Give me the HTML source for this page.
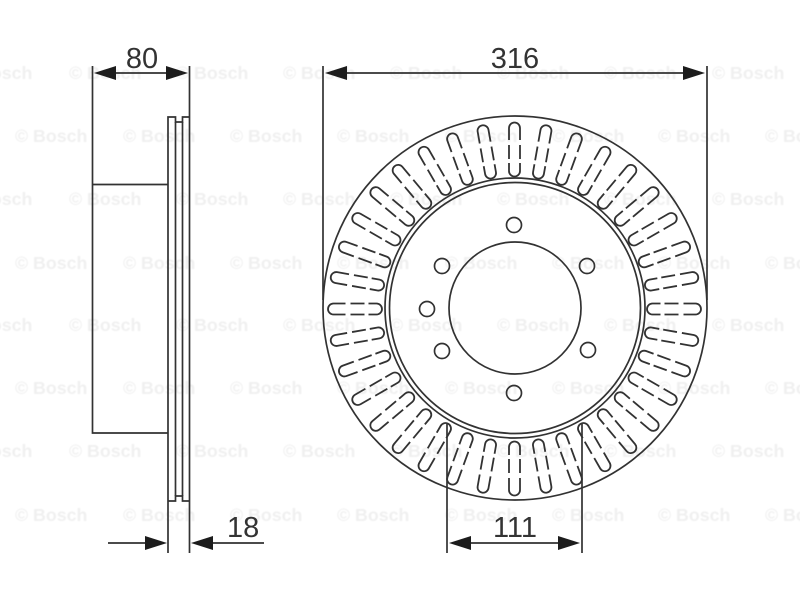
<!DOCTYPE html>
<html><head><meta charset="utf-8"><style>
html,body{margin:0;padding:0;background:#fff}
svg{display:block}
.w{font:bold 17.8px "Liberation Sans",sans-serif;fill:#f0f0f0}
.d{font:29px "Liberation Sans",sans-serif;fill:#333}
</style></head><body>
<svg width="800" height="600" viewBox="0 0 800 600" xmlns="http://www.w3.org/2000/svg">
<defs>
<filter id="b" x="-5%" y="-5%" width="110%" height="110%"><feGaussianBlur stdDeviation="0.35"/></filter>
<filter id="c" x="-5%" y="-5%" width="110%" height="110%"><feGaussianBlur stdDeviation="0.6"/></filter>
<g id="s" fill="none" stroke="#333" stroke-width="1.8">
<path d="M-5.500,-169V-181A5.500,5.500 0 0 1 5.500,-181V-169"/>
<path d="M-5.500,-150V-164M5.500,-150V-164"/>
<path d="M-5.500,-146V-138A5.500,5.500 0 0 0 5.500,-138V-146"/>
</g>
</defs>
<rect width="800" height="600" fill="#fff"/>
<g class="w" filter="url(#c)">
<text x="-40" y="79">© Bosch</text><text x="69" y="79">© Bosch</text><text x="176" y="79">© Bosch</text><text x="283" y="79">© Bosch</text><text x="390" y="79">© Bosch</text><text x="497" y="79">© Bosch</text><text x="604" y="79">© Bosch</text><text x="712" y="79">© Bosch</text>
<text x="15" y="142">© Bosch</text><text x="123" y="142">© Bosch</text><text x="230" y="142">© Bosch</text><text x="337" y="142">© Bosch</text><text x="445" y="142">© Bosch</text><text x="552" y="142">© Bosch</text><text x="658" y="142">© Bosch</text><text x="765" y="142">© Bosch</text>
<text x="-40" y="205">© Bosch</text><text x="69" y="205">© Bosch</text><text x="176" y="205">© Bosch</text><text x="283" y="205">© Bosch</text><text x="390" y="205">© Bosch</text><text x="497" y="205">© Bosch</text><text x="604" y="205">© Bosch</text><text x="712" y="205">© Bosch</text>
<text x="15" y="269">© Bosch</text><text x="123" y="269">© Bosch</text><text x="230" y="269">© Bosch</text><text x="337" y="269">© Bosch</text><text x="445" y="269">© Bosch</text><text x="552" y="269">© Bosch</text><text x="658" y="269">© Bosch</text><text x="765" y="269">© Bosch</text>
<text x="-40" y="331">© Bosch</text><text x="69" y="331">© Bosch</text><text x="176" y="331">© Bosch</text><text x="283" y="331">© Bosch</text><text x="390" y="331">© Bosch</text><text x="497" y="331">© Bosch</text><text x="604" y="331">© Bosch</text><text x="712" y="331">© Bosch</text>
<text x="15" y="394">© Bosch</text><text x="123" y="394">© Bosch</text><text x="230" y="394">© Bosch</text><text x="337" y="394">© Bosch</text><text x="445" y="394">© Bosch</text><text x="552" y="394">© Bosch</text><text x="658" y="394">© Bosch</text><text x="765" y="394">© Bosch</text>
<text x="-40" y="457">© Bosch</text><text x="69" y="457">© Bosch</text><text x="176" y="457">© Bosch</text><text x="283" y="457">© Bosch</text><text x="390" y="457">© Bosch</text><text x="497" y="457">© Bosch</text><text x="604" y="457">© Bosch</text><text x="712" y="457">© Bosch</text>
<text x="15" y="521">© Bosch</text><text x="123" y="521">© Bosch</text><text x="230" y="521">© Bosch</text><text x="337" y="521">© Bosch</text><text x="445" y="521">© Bosch</text><text x="552" y="521">© Bosch</text><text x="658" y="521">© Bosch</text><text x="765" y="521">© Bosch</text>
</g>
<g filter="url(#b)">
<g fill="none" stroke="#333" stroke-width="1.7">
<!-- side view -->
<path d="M92.500,66V433H168M92.500,184.500H168"/>
<path d="M168,553V117H175.500V122H182.500V117H189.500V66M189.500,117V553M168,501H175.500V496H182.500V501H189.500"/>
<path d="M175.500,122V496M182.500,122V496"/>
<!-- dimension lines -->
<path d="M323,66V300M707,66V300M447,424V553M582,424V553"/>
<path d="M110,73H172M340,73H690M466,543H562M108,543H150M208,543H264"/>
<!-- disc -->
<circle cx="515" cy="308" r="192"/>
<circle cx="515" cy="308" r="130"/>
<circle cx="515" cy="308" r="125.500"/>
<circle cx="515" cy="308" r="66"/>
<circle cx="514" cy="225" r="7.500"/>
<circle cx="587" cy="266" r="7.500"/>
<circle cx="588" cy="350" r="7.500"/>
<circle cx="514" cy="393" r="7.500"/>
<circle cx="442" cy="351" r="7.500"/>
<circle cx="442" cy="266" r="7.500"/>
<circle cx="427" cy="309" r="7.500"/>
</g>
<g transform="translate(514.500 309)">
<use href="#s" transform="rotate(0)"/><use href="#s" transform="rotate(10)"/><use href="#s" transform="rotate(20)"/><use href="#s" transform="rotate(30)"/><use href="#s" transform="rotate(40)"/><use href="#s" transform="rotate(50)"/><use href="#s" transform="rotate(60)"/><use href="#s" transform="rotate(70)"/><use href="#s" transform="rotate(80)"/><use href="#s" transform="rotate(90)"/><use href="#s" transform="rotate(100)"/><use href="#s" transform="rotate(110)"/><use href="#s" transform="rotate(120)"/><use href="#s" transform="rotate(130)"/><use href="#s" transform="rotate(140)"/><use href="#s" transform="rotate(150)"/><use href="#s" transform="rotate(160)"/><use href="#s" transform="rotate(170)"/><use href="#s" transform="rotate(180)"/><use href="#s" transform="rotate(190)"/><use href="#s" transform="rotate(200)"/><use href="#s" transform="rotate(210)"/><use href="#s" transform="rotate(220)"/><use href="#s" transform="rotate(230)"/><use href="#s" transform="rotate(240)"/><use href="#s" transform="rotate(250)"/><use href="#s" transform="rotate(260)"/><use href="#s" transform="rotate(270)"/><use href="#s" transform="rotate(280)"/><use href="#s" transform="rotate(290)"/><use href="#s" transform="rotate(300)"/><use href="#s" transform="rotate(310)"/><use href="#s" transform="rotate(320)"/><use href="#s" transform="rotate(330)"/><use href="#s" transform="rotate(340)"/><use href="#s" transform="rotate(350)"/>
</g>
<!-- arrowheads -->
<g fill="#1c1c1c">
<path d="M94,73L116,66V80Z"/><path d="M188,73L166,66V80Z"/>
<path d="M325,73L347,66V80Z"/><path d="M705,73L683,66V80Z"/>
<path d="M449,543L471,536V550Z"/><path d="M580,543L558,536V550Z"/>
<path d="M167,543L145,536V550Z"/><path d="M191,543L213,536V550Z"/>
</g>
</g>
<text class="d" x="142" y="68" text-anchor="middle">80</text>
<text class="d" x="515" y="68" text-anchor="middle">316</text>
<text class="d" x="515" y="537" text-anchor="middle">111</text>
<text class="d" x="227" y="537">18</text>
</svg>
</body></html>
